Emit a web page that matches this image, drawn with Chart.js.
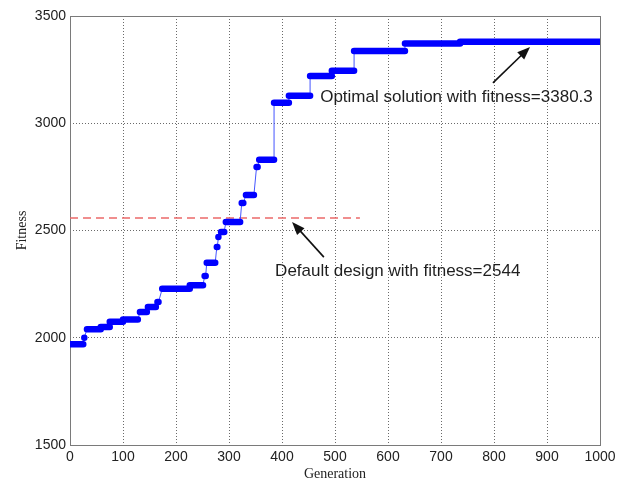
<!DOCTYPE html>
<html>
<head>
<meta charset="utf-8">
<script src="https://cdn.jsdelivr.net/npm/chart.js@4.4.1/dist/chart.umd.min.js"></script>
<style>
  html, body { margin: 0; padding: 0; background: #fff; }
  #wrap { width: 628px; height: 487px; }
</style>
</head>
<body>
<div id="wrap"><canvas id="grafico"></canvas></div>
<script>
// Plateaus of the best fitness (generation where each level starts / ends)
const plateauStart   = [0,    27,   32,   58,   75,   100,  132,  147,  165,  174,  226,  254,  258,  277,  280,  285,  294,  324,  332,  352,  357,  385,  413,  453,  494,  536,  632,  736];
const plateauEnd     = [25,   28,   58,   75,   100,  128,  145,  162,  167,  226,  251,  256,  274,  278,  281,  291,  321,  327,  347,  354,  385,  413,  453,  494,  536,  632,  736,  1000];
const plateauFitness = [1970, 2000, 2040, 2050, 2075, 2085, 2120, 2143, 2167, 2228, 2245, 2288, 2350, 2423, 2470, 2493, 2540, 2628, 2666, 2796, 2830, 3095, 3128, 3220, 3245, 3337, 3372, 3380];

// Default design reference line
const defaultGen     = [0, 547];
const defaultFitness = [2558, 2558];

const xTicks = [0, 100, 200, 300, 400, 500, 600, 700, 800, 900, 1000];
const yTicks = [1500, 2000, 2500, 3000, 3500];

// Annotations (data coordinates)
const notes = [
    { text: 'Optimal solution with fitness=3380.3', x: 472, y: 3122, from: [798, 3188], to: [868, 3356] },
    { text: 'Default design with fitness=2544',     x: 387, y: 2310, from: [479, 2376], to: [419, 2540] },
];

document.addEventListener('DOMContentLoaded', function() {

const thinLine = [];
const thickBars = [];
plateauStart.forEach((s, i) => {
    thinLine.push({ x: s, y: plateauFitness[i] });
    thinLine.push({ x: plateauEnd[i], y: plateauFitness[i] });
    thickBars.push({ x: s, y: plateauFitness[i] });
    thickBars.push({ x: plateauEnd[i], y: plateauFitness[i] });
    thickBars.push({ x: plateauEnd[i], y: null });
});

const sans = "'Liberation Sans', Arial, sans-serif";
const serif = "'Liberation Serif', 'Times New Roman', serif";

// Moldura e anotacoes
const framePlugin = {
    id: 'frame',
    beforeDatasetsDraw(chart) {
        const { ctx, chartArea: a } = chart;
        ctx.save();
        ctx.strokeStyle = '#7a7a7a';
        ctx.lineWidth = 1;
        ctx.strokeRect(Math.round(a.left) + 0.5, Math.round(a.top) + 0.5,
            Math.round(a.right - a.left), Math.round(a.bottom - a.top));
        ctx.restore();
    },
    afterDatasetsDraw(chart) {
        const { ctx, scales: { x, y } } = chart;
        ctx.save();
        ctx.font = '17px ' + sans;
        ctx.textBaseline = 'middle';
        notes.forEach(n => {
            ctx.fillStyle = '#1f1f1f';
            ctx.fillText(n.text, x.getPixelForValue(n.x), y.getPixelForValue(n.y));
            const x0 = x.getPixelForValue(n.from[0]), y0 = y.getPixelForValue(n.from[1]);
            const x1 = x.getPixelForValue(n.to[0]),   y1 = y.getPixelForValue(n.to[1]);
            const ang = Math.atan2(y1 - y0, x1 - x0);
            ctx.strokeStyle = '#111';
            ctx.lineWidth = 1.6;
            ctx.beginPath();
            ctx.moveTo(x0, y0);
            ctx.lineTo(x1 - 8 * Math.cos(ang), y1 - 8 * Math.sin(ang));
            ctx.stroke();
            ctx.fillStyle = '#111';
            ctx.beginPath();
            ctx.moveTo(x1, y1);
            ctx.lineTo(x1 - 13 * Math.cos(ang) + 5 * Math.sin(ang), y1 - 13 * Math.sin(ang) - 5 * Math.cos(ang));
            ctx.lineTo(x1 - 13 * Math.cos(ang) - 5 * Math.sin(ang), y1 - 13 * Math.sin(ang) + 5 * Math.cos(ang));
            ctx.closePath();
            ctx.fill();
        });
        ctx.restore();
    }
};

const ctx = document.getElementById('grafico').getContext('2d');

new Chart(ctx, {
    type: 'line',
    data: {
        datasets: [
            {
                label: 'Default',
                data: defaultGen.map((g, i) => ({ x: g, y: defaultFitness[i] })),
                borderColor: '#ec6a6a',
                borderWidth: 1.6,
                borderDash: [8, 5],
                pointRadius: 0,
                order: 3,
            },
            {
                label: 'Best fitness',
                data: thinLine,
                borderColor: '#4455ff',
                borderWidth: 1,
                pointRadius: 0,
                order: 2,
            },
            {
                label: 'Markers',
                data: thickBars,
                borderColor: '#0000ff',
                borderWidth: 6.5,
                borderCapStyle: 'round',
                pointRadius: 0,
                spanGaps: false,
                order: 1,
            },
        ],
    },
    options: {
        responsive: true,
        maintainAspectRatio: false,
        animation: false,
        layout: { padding: { top: 16, right: 28, left: 0, bottom: 0 } },
        plugins: {
            legend: { display: false },
            tooltip: { enabled: false },
        },
        scales: {
            x: {
                type: 'linear',
                min: 0,
                max: 1000,
                afterBuildTicks: s => { s.ticks = xTicks.map(v => ({ value: v })); },
                afterFit: s => { s.height = 42; },
                grid: { color: '#6a6a6a', lineWidth: 1, drawTicks: false },
                border: { display: false, dash: [1, 2] },
                ticks: { font: { family: sans, size: 14 }, color: '#222', padding: 4, maxRotation: 0, callback: v => String(v) },
                title: { display: true, text: 'Generation', font: { family: serif, size: 14 }, color: '#222', padding: { top: 0, bottom: 4 } },
            },
            y: {
                min: 1500,
                max: 3500,
                afterBuildTicks: s => { s.ticks = yTicks.map(v => ({ value: v })); },
                afterFit: s => { s.width = 70; },
                grid: { color: '#6a6a6a', lineWidth: 1, drawTicks: false },
                border: { display: false, dash: [1, 2] },
                ticks: { font: { family: sans, size: 14 }, color: '#222', padding: 4, callback: v => String(v) },
                title: { display: true, text: 'Fitness', font: { family: serif, size: 14 }, color: '#222', padding: { top: 14, bottom: 0 } },
            },
        },
    },
    plugins: [framePlugin],
});
});
</script>
</body>
</html>
